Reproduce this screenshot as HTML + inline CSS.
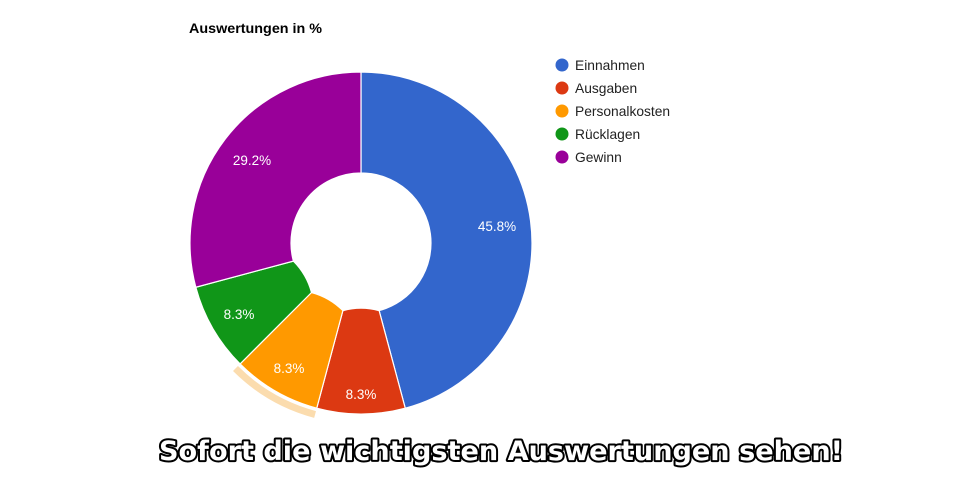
<!DOCTYPE html>
<html><head><meta charset="utf-8"><style>
html,body{margin:0;padding:0;background:#fff;width:960px;height:483px;overflow:hidden}
svg{display:block}
</style></head><body>
<svg width="960" height="483" viewBox="0 0 960 483" xmlns="http://www.w3.org/2000/svg">
<text x="189" y="33" textLength="133" lengthAdjust="spacingAndGlyphs" font-family="Liberation Sans, Arial, sans-serif" font-size="13.5" font-weight="bold" fill="#000">Auswertungen in %</text>
<g stroke="#fff" stroke-width="1.2">
<path d="M361,72 A171,171 0 0 1 405.26,408.17 L379.12,310.61 A70,70 0 0 0 361,173 Z" fill="#3366cc"/>
<path d="M405.26,408.17 A171,171 0 0 1 316.74,408.17 L342.88,310.61 A70,70 0 0 1 379.12,310.61 Z" fill="#dc3912"/>
<path d="M316.74,408.17 A171,171 0 0 1 240.09,363.91 L311.5,292.5 A70,70 0 0 1 342.88,310.61 Z" fill="#ff9900"/>
<path d="M240.09,363.91 A171,171 0 0 1 195.83,287.26 L293.39,261.12 A70,70 0 0 1 311.5,292.5 Z" fill="#109618"/>
<path d="M195.83,287.26 A171,171 0 0 1 361,72 L361,173 A70,70 0 0 0 293.39,261.12 Z" fill="#990099"/>
</g>
<path d="M315.97,411.07 A174,174 0 0 1 237.96,366.04 L233.01,370.99 A181,181 0 0 0 314.16,417.83 Z" fill="#fbdcae"/>
<g font-family="Liberation Sans, Arial, sans-serif" font-size="13.5" fill="#fff" text-anchor="middle">
<text x="497" y="231">45.8%</text>
<text x="361" y="399">8.3%</text>
<text x="289" y="373">8.3%</text>
<text x="239" y="319">8.3%</text>
<text x="252" y="165">29.2%</text>
</g>
<g font-family="Liberation Sans, Arial, sans-serif" font-size="13.8" fill="#222">
<circle cx="562" cy="65" r="6.5" fill="#3366cc"/><text x="575" y="70">Einnahmen</text>
<circle cx="562" cy="88" r="6.5" fill="#dc3912"/><text x="575" y="93">Ausgaben</text>
<circle cx="562" cy="111" r="6.5" fill="#ff9900"/><text x="575" y="116">Personalkosten</text>
<circle cx="562" cy="134" r="6.5" fill="#109618"/><text x="575" y="139">Rücklagen</text>
<circle cx="562" cy="157" r="6.5" fill="#990099"/><text x="575" y="162">Gewinn</text>
</g>
<text x="159" y="460" textLength="684" lengthAdjust="spacingAndGlyphs" font-family="DejaVu Sans, Liberation Sans, sans-serif" font-size="27" font-weight="bold" fill="#fff" stroke="#000" stroke-width="4" stroke-linejoin="round" paint-order="stroke">Sofort die wichtigsten Auswertungen sehen!</text>
</svg>
</body></html>
